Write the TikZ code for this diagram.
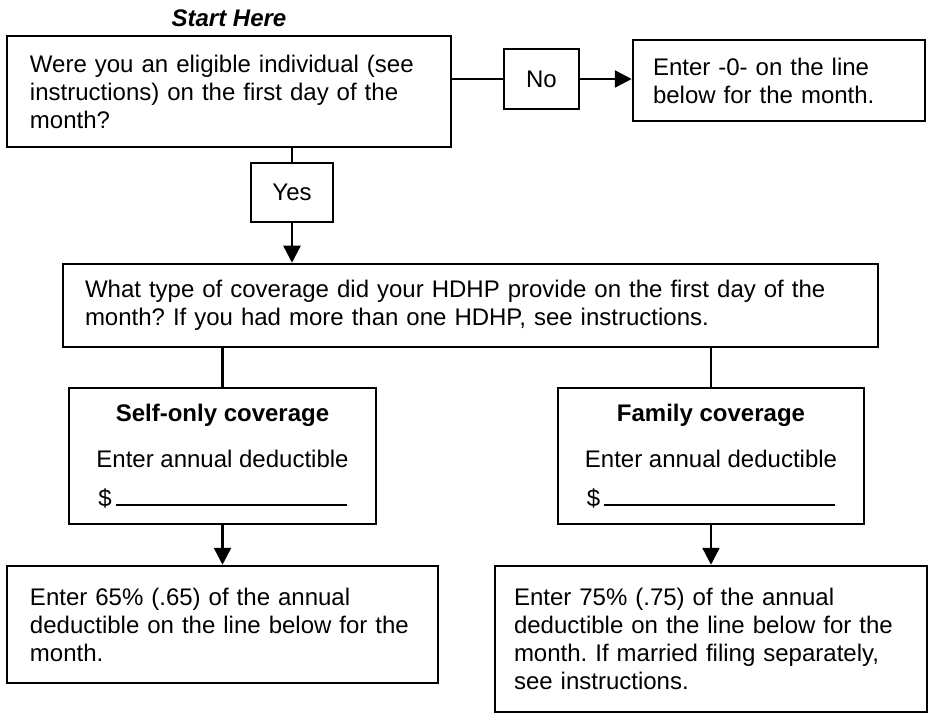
\documentclass[tikz,border=0pt]{standalone}
\usepackage{fontspec}
\setmainfont{Liberation Sans}
\usetikzlibrary{arrows.meta}
\tikzset{
    box/.style={draw,rectangle,line width=2.5pt,inner sep=0pt,align=left,
    font=\fontsize{24}{28}\selectfont},
    tag/.style={draw,rectangle,line width=2.5pt,inner sep=0pt,
    font=\fontsize{24}{28}\selectfont},
    edge/.style={line width=2.5pt},
    dedge/.style = {-{Triangle[length=17pt,width=17pt]},line width=2.5pt}
}
\frenchspacing

\begin{document}
\begin{tikzpicture}[x=1pt,y=-1pt]
\useasboundingbox (0,0) rectangle (930,727);
\node[font=\fontsize{24}{28}\selectfont\bfseries\itshape] (start) at (229,18) {Start Here};

\node[box,minimum width=444pt,minimum height=111pt,text width=398pt] (q1) at (229,91.5) {Were you an eligible individual (see\\instructions) on the first day of the\\month?};
\node[tag,minimum width=75pt,minimum height=60pt] (no) at (541.5,79) {No};
\node[box,minimum width=292pt,minimum height=81pt,text width=252pt] (zero) at (779,80.5) {Enter -0- on the line\\below for the month.};
\node[tag,minimum width=82pt,minimum height=59pt] (yes) at (292,192.5) {Yes};

\node[box,minimum width=815pt,minimum height=83pt,text width=771pt] (q2) at (470.5,305.5) {What type of coverage did your HDHP provide on the first day of the\\month? If you had more than one HDHP, see instructions.};

\node[box,align=center,minimum width=307pt,minimum height=136pt] (self) at (222.5,456) {\textbf{Self-only coverage}\\[18pt]Enter annual deductible\\[11pt]\$\hspace{4pt}\rule{231pt}{2pt}};
\node[box,align=center,minimum width=306pt,minimum height=136pt] (fam) at (711,456) {\textbf{Family coverage}\\[18pt]Enter annual deductible\\[11pt]\$\hspace{4pt}\rule{231pt}{2pt}};

\node[box,minimum width=431pt,minimum height=117pt,text width=385pt] (r65) at (222.5,624.5) {Enter 65\% (.65) of the annual\\deductible on the line below for the\\month.};
\node[box,minimum width=432pt,minimum height=146pt,text width=394pt] (r75) at (711,639) {Enter 75\% (.75) of the annual\\deductible on the line below for the\\month. If married filing separately,\\see instructions.};

\draw[edge] (no.west -| q1.east) -- (no.west);
\draw[dedge] (no.east) -- (no.east -| zero.west);
\draw[edge] (q1.south -| yes.north) -- (yes.north);
\draw[dedge] (yes.south) -- (yes.south |- q2.north);
\draw[edge] (self.north |- q2.south) -- (self.north);
\draw[edge] (fam.north |- q2.south) -- (fam.north);
\draw[dedge] (self.south) -- (self.south |- r65.north);
\draw[dedge] (fam.south) -- (fam.south |- r75.north);
\end{tikzpicture}
\end{document}
